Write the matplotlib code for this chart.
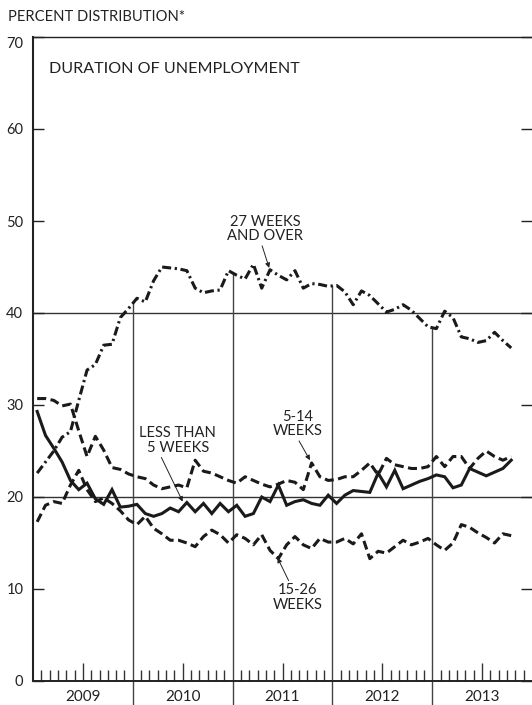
import numpy as np
import matplotlib
matplotlib.use("Agg")
import matplotlib.pyplot as plt

plt.rcParams['font.family'] = ['Lato', 'DejaVu Sans']
plt.rcParams['lines.scale_dashes'] = False

# monthly shares, Jan 2009 - Oct 2013 (percent of unemployed)
less_5 = [29.3, 26.7, 25.3, 23.8, 21.8, 20.8, 21.5, 19.8, 19.2, 20.8,
          18.9, 19.0, 19.2, 18.2, 17.9, 18.2, 18.8, 18.4, 19.4, 18.4,
          19.3, 18.2, 19.3, 18.4, 19.1, 17.9, 18.2, 20.0, 19.5, 21.3,
          19.1, 19.5, 19.7, 19.3, 19.1, 20.2, 19.3, 20.2, 20.7, 20.6,
          20.5, 22.6, 21.1, 22.9, 20.9, 21.3, 21.7, 22.0, 22.4, 22.2,
          21.0, 21.3, 23.1, 22.7, 22.3, 22.7, 23.1, 24.0]
wk_5_14 = [30.7, 30.7, 30.5, 29.9, 30.1, 27.2, 24.4, 26.6, 25.1, 23.2,
           23.0, 22.5, 22.2, 22.0, 21.3, 20.9, 21.1, 21.3, 21.0, 24.0,
           22.8, 22.6, 22.2, 21.8, 21.5, 22.2, 21.8, 21.4, 21.1, 21.4,
           21.8, 21.6, 20.8, 23.7, 22.2, 21.8, 21.9, 22.2, 22.2, 22.9,
           23.7, 22.4, 24.2, 23.5, 23.3, 23.1, 23.1, 23.3, 24.4, 23.3,
           24.4, 24.4, 23.1, 24.2, 25.0, 24.4, 24.0, 24.4]
wk_15_26 = [17.3, 19.1, 19.5, 19.3, 21.3, 22.9, 20.8, 19.5, 19.9, 19.3,
            18.5, 17.5, 17.0, 17.9, 16.6, 16.0, 15.3, 15.3, 15.0, 14.6,
            15.7, 16.4, 15.9, 15.0, 15.9, 15.5, 14.8, 15.9, 14.2, 13.3,
            14.8, 15.7, 14.8, 14.4, 15.5, 15.1, 15.1, 15.5, 14.9, 16.0,
            13.3, 14.1, 13.9, 14.6, 15.3, 14.8, 15.1, 15.5, 14.8, 14.2,
            15.0, 17.0, 16.7, 16.1, 15.6, 15.0, 16.0, 15.8]
wk_27_over = [22.6, 23.8, 25.0, 26.5, 27.1, 30.5, 33.8, 34.4, 36.5, 36.6,
              39.5, 40.5, 41.6, 41.2, 43.5, 45.0, 44.9, 44.8, 44.6, 42.7,
              42.2, 42.4, 42.5, 44.6, 44.1, 43.7, 45.3, 42.7, 44.7, 44.1,
              43.6, 44.6, 42.7, 43.2, 43.1, 42.9, 43.0, 42.3, 40.9, 42.4,
              41.9, 41.0, 40.1, 40.4, 40.9, 40.3, 39.4, 38.5, 38.3, 40.2,
              39.5, 37.4, 37.2, 36.8, 37.0, 37.9, 37.0, 36.2]
years = ['2009', '2010', '2011', '2012', '2013']

x = np.arange(len(less_5)) + 0.5   # mid-month positions, months since Jan 2009

fig = plt.figure(figsize=(5.32, 7.05), dpi=100)
ax = fig.add_axes([33 / 532, 24 / 705, 499 / 532, 644 / 705])
ax.set_xlim(0, 60)
ax.set_ylim(0, 70)

# grid lines at 20 and 40
for g in (20, 40):
    ax.axhline(g, color='#333333', lw=1.0, zorder=1)

# year separators, from below the axis up to the 27-weeks line
for b in (12, 24, 36, 48):
    top = np.interp(b, x, wk_27_over)
    ax.plot([b, b], [-2.7, top], color='#444444', lw=1.0, clip_on=False, zorder=1)

ax.plot(x, less_5, color='#1a1a1a', lw=2.2, solid_joinstyle='miter', zorder=3)
ax.plot(x, wk_5_14, color='#1a1a1a', lw=2.2, dashes=(6.5, 3.2), zorder=3)
ax.plot(x, wk_15_26, color='#1a1a1a', lw=2.2, dashes=(6.5, 3.2), zorder=3)
ax.plot(x, wk_27_over, color='#1a1a1a', lw=2.2, dashes=(6.5, 2.6, 1.6, 2.6), zorder=3)

# axes frame
ax.spines['right'].set_visible(False)
ax.spines['left'].set_linewidth(1.5)
ax.spines['bottom'].set_linewidth(1.4)
ax.spines['top'].set_linewidth(1.0)
for s in ax.spines.values():
    s.set_color('#222222')

ax.set_yticks([0, 10, 20, 30, 40, 50, 60, 70])
ax.tick_params(axis='y', direction='in', length=8, width=1.0, right=True,
               labelsize=10.5, pad=7, colors='#222222')
# the 70 label sits just under the top rule
top_lab = ax.get_yticklabels()[-1]
top_lab.set_va('top')
top_lab.set_y(70)

# monthly ticks at the bottom, longer one mid-year
minor = [m for m in range(60) if m % 12 != 0 and m % 12 != 6]
major_mid = [m for m in range(60) if m % 12 == 6]
ax.set_xticks(major_mid)
ax.set_xticks(minor, minor=True)
ax.set_xticklabels([])
ax.tick_params(axis='x', which='major', direction='in', length=13, width=1.0, color='#333333')
ax.tick_params(axis='x', which='minor', direction='in', length=8, width=1.0, color='#333333')

for k, yr in enumerate(years):
    ax.text(k * 12 + 6, -1.75, yr, ha='center', va='center', fontsize=11, color='#222222')

fig.text(8 / 532, 1 - 17 / 705, 'PERCENT DISTRIBUTION*', ha='left', va='center',
         fontsize=10.6, color='#222222')
ax.text(1.9, 66.5, 'DURATION OF UNEMPLOYMENT', ha='left', va='center',
        fontsize=11.6, color='#222222')

lab = dict(ha='center', fontsize=10.6, color='#222222', linespacing=1.05)


def arrow(rx, ry):
    return dict(arrowstyle='-|>', lw=0.7, color='#222222', mutation_scale=7,
                shrinkA=0, shrinkB=0, relpos=(rx, ry))


ax.annotate('27 WEEKS\nAND OVER', xy=(28.4, 44.9), xytext=(27.9, 47.6), va='bottom',
            arrowprops=arrow(0.45, 0), **lab)
ax.annotate('LESS THAN\n5 WEEKS', xy=(18.0, 19.5), xytext=(17.4, 24.6), va='bottom',
            arrowprops=arrow(0.27, 0), **lab)
ax.annotate('5-14\nWEEKS', xy=(33.3, 24.0), xytext=(31.8, 26.4), va='bottom',
            arrowprops=arrow(0.5, 0), **lab)
ax.annotate('15-26\nWEEKS', xy=(29.4, 13.4), xytext=(31.8, 10.6), va='top',
            arrowprops=arrow(0.35, 1), **lab)

fig.savefig('out.png', dpi=100)
